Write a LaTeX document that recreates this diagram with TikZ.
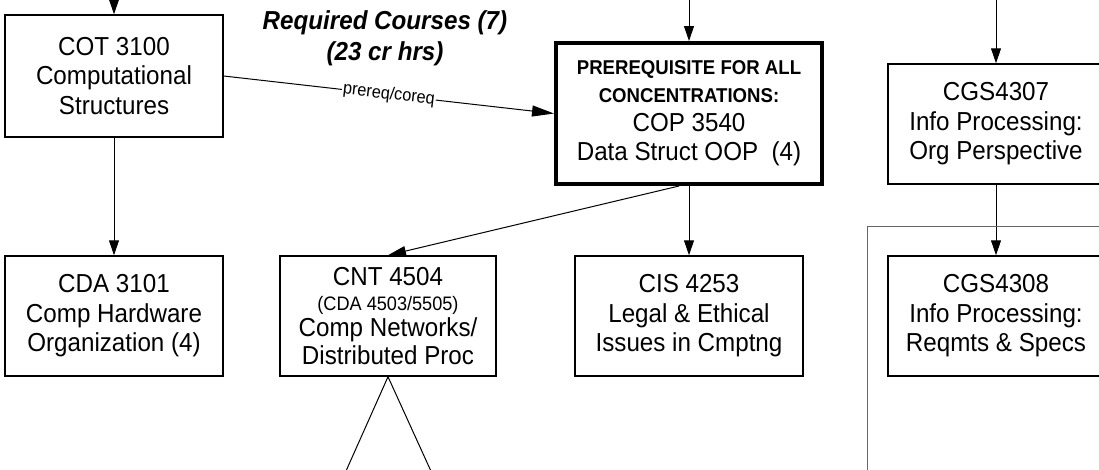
\documentclass[tikz,border=0pt]{standalone}
\usepackage{fontspec}
\setmainfont{Liberation Sans}[FakeStretch=0.93]
\usetikzlibrary{arrows.meta}
\tikzstyle{crs}=[shape=rectangle,
                 draw=black,
                 line width=1.5pt,
                 align=center,
                 minimum height=120pt,
                 font=\fontsize{26}{29.5}\selectfont]
\tikzstyle{req}=[crs,
                 line width=4pt,
                 minimum width=266pt,
                 minimum height=141pt]
\newcommand{\reqhd}{\fontsize{20}{29}\selectfont\bfseries}
\newcommand{\altcrs}{\fontsize{19.5}{22}\selectfont}

\begin{document}
\begin{tikzpicture}[x=1pt,y=-1pt,>={Triangle[length=15pt,width=10pt]},line width=1pt]
\useasboundingbox (0,0) rectangle (1099,469);

% heading
\node[font=\fontsize{26}{31}\selectfont\bfseries\itshape, align=center] (hdr) at (385,38.5) {Required Courses (7)\\(23 cr hrs)};

% top row
\node[crs, minimum width=218pt, minimum height=122pt] (cot) at (114,76) {COT 3100\\Computational\\Structures};
\node[req] (cop) at (689,113.5) {{\reqhd PREREQUISITE FOR ALL}\\[-1.5pt]{\reqhd CONCENTRATIONS:}\\[-1pt]COP 3540\\Data Struct OOP~~(4)};
\node[crs, minimum width=216pt] (cgsa) at (996,124) {CGS4307\\Info Processing:\\Org Perspective};

% bottom row
\node[crs, minimum width=218pt] (cda) at (114,316) {CDA 3101\\Comp Hardware\\Organization (4)};
\node[crs, minimum width=216pt] (cnt) at (388,316) {CNT 4504\\[-4.7pt]{\altcrs (CDA 4503/5505)}\\[-3.3pt]Comp Networks/\\[-1.5pt]Distributed Proc};
\node[crs, minimum width=228pt] (cis) at (689,316) {CIS 4253\\Legal \& Ethical\\Issues in Cmptng};
\node[crs, minimum width=216pt] (cgsb) at (996,316) {CGS4308\\Info Processing:\\Reqmts \& Specs};

% loose ends
\coordinate (ina) at (114,-5);
\coordinate (inb) at (689,-5);
\coordinate (inc) at (996,-5);
\coordinate (outa) at (342,480);
\coordinate (outb) at (435,480);

% paths
\path[->] (ina) edge (cot)
          (inb) edge (cop)
          (inc) edge (cgsa);

\path[->] (cot.east) edge[-{Triangle[length=22pt,width=11pt]}] node[pos=0.5, rotate=-6.6, fill=white, inner sep=1pt, font=\fontsize{17.5}{20}\selectfont] {prereq/coreq} (cop.west)
          (cot) edge (cda)
          ([xshift=-10pt]cop.south) edge[-{Triangle[length=18pt,width=10pt]}] (cnt.north)
          (cop) edge (cis)
          (cgsa) edge (cgsb);

\draw (outa) -- (cnt.south) -- (outb);

\draw[black!60] (867,480) -- (867,226) -- (1110,226);
\end{tikzpicture}
\end{document}
